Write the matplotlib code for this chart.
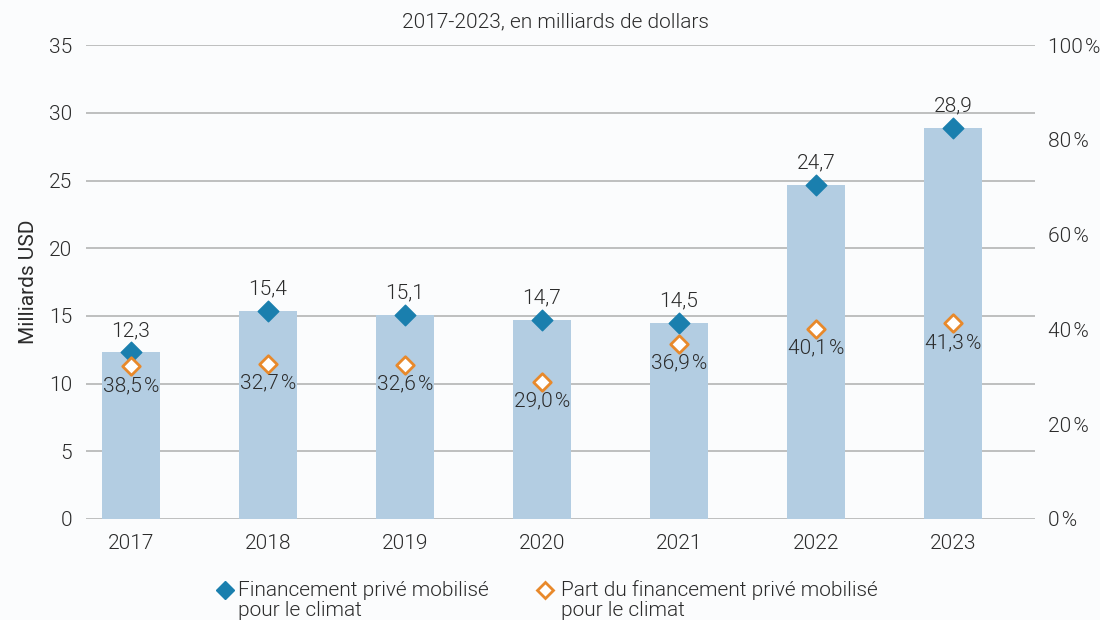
import numpy as np
import matplotlib.pyplot as plt
from matplotlib.lines import Line2D

plt.rcParams['font.family'] = ['Roboto', 'DejaVu Sans']
plt.rcParams['font.weight'] = 300

annees = ['2017', '2018', '2019', '2020', '2021', '2022', '2023']
financement = [12.3, 15.4, 15.1, 14.7, 14.5, 24.7, 28.9]
part_position = [32.2, 32.7, 32.6, 29.0, 36.9, 40.1, 41.3]  # position des losanges (%)
part_labels = ['38,5', '32,7', '32,6', '29,0', '36,9', '40,1', '41,3']

bleu_barre = '#b3cde2'
bleu = '#1a7fae'
orange = '#e8892b'
gris_texte = '#2b2b2b'
gris_grille = '#b4b4b4'
fond = '#fbfcfd'
fs = 15
esp = '\u200a'  # espace fine avant %

fig = plt.figure(figsize=(11, 6.2), dpi=100, facecolor=fond)
ax = fig.add_axes([0.078, 0.163, 0.863, 0.764], facecolor=fond)
ax2 = ax.twinx()

x = np.arange(len(annees))
ax.bar(x, financement, width=0.42, color=bleu_barre, zorder=2)
ax.scatter(x, financement, marker='D', s=110, color=bleu, zorder=4)

for xi, v in zip(x, financement):
    ax.annotate(f'{v:.1f}'.replace('.', ','), (xi, v), xytext=(0, 9), textcoords='offset points',
                ha='center', va='bottom', fontsize=fs, color=gris_texte)

ax2.scatter(x, part_position, marker='D', s=80, facecolor='white', edgecolor=orange,
            linewidth=2, zorder=5)
for xi, p, lab in zip(x, part_position, part_labels):
    ax2.annotate(lab + esp + '%', (xi, p), xytext=(0, -7), textcoords='offset points',
                 ha='center', va='top', fontsize=fs, color=gris_texte)

ax.set_ylim(0, 35)
ax.set_yticks(np.arange(0, 36, 5))
ax2.set_ylim(0, 100)
ax2.set_yticks(np.arange(0, 101, 20))
ax2.set_yticklabels([f'{t}{esp}%' for t in range(0, 101, 20)])
ax.set_xlim(-0.33, 6.6)
ax.set_xticks(x)
ax.set_xticklabels(annees)

ax.grid(axis='y', color=gris_grille, linewidth=1.2, zorder=0)
ax.set_axisbelow(True)
for a in (ax, ax2):
    for s in a.spines.values():
        s.set_visible(False)
    a.tick_params(length=0, labelsize=fs, colors=gris_texte)
ax.tick_params(axis='y', pad=10)
ax.tick_params(axis='x', pad=11)
ax2.tick_params(axis='y', pad=9)
ax2.set_zorder(ax.get_zorder() + 1)
ax2.patch.set_visible(False)

ax.set_ylabel('Milliards USD', fontsize=fs, color=gris_texte, labelpad=8)
fig.text(0.505, 0.964, '2017-2023, en milliards de dollars', ha='center', va='center',
         fontsize=fs, color=gris_texte)

# légende manuelle
leg_y1 = 1 - 590 / 620
leg_y2 = 1 - 610 / 620
fig.add_artist(Line2D([225 / 1100], [leg_y1], marker='D', linestyle='none', color=bleu,
                      markersize=9, transform=fig.transFigure))
fig.add_artist(Line2D([545 / 1100], [leg_y1], marker='D', linestyle='none', markerfacecolor='white',
                      markeredgecolor=orange, markeredgewidth=2, markersize=8,
                      transform=fig.transFigure))
fig.text(238 / 1100, leg_y1, 'Financement privé mobilisé', ha='left', va='center',
         fontsize=fs, color=gris_texte)
fig.text(238 / 1100, leg_y2, 'pour le climat', ha='left', va='center', fontsize=fs, color=gris_texte)
fig.text(561 / 1100, leg_y1, 'Part du financement privé mobilisé', ha='left', va='center',
         fontsize=fs, color=gris_texte)
fig.text(561 / 1100, leg_y2, 'pour le climat', ha='left', va='center', fontsize=fs, color=gris_texte)

fig.savefig('out.png', dpi=100, facecolor=fond)
